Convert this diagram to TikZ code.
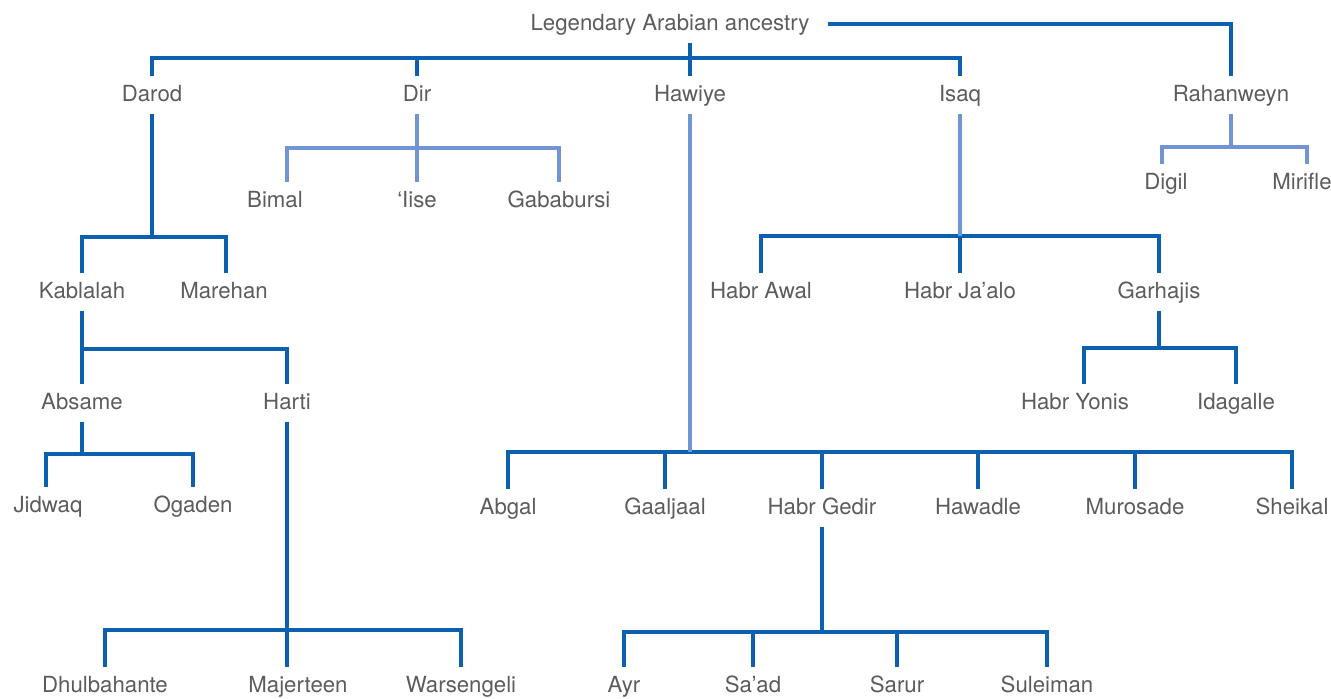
\documentclass[tikz,border=0pt]{standalone}
\usepackage{fontspec}
\setmainfont{TeX Gyre Heros}
\usepackage{xcolor}
\usepackage{tikz}
\usetikzlibrary{positioning}
\definecolor{clandark}{RGB}{12,96,176}
\definecolor{clanlight}{RGB}{112,148,212}
\definecolor{clantext}{RGB}{92,92,92}

\begin{document}
\begin{tikzpicture} [on grid, node distance = 100bp,
    every node/.style={font=\fontsize{22.3}{25}\selectfont, text=clantext, inner sep=0pt, inner ysep=8.5bp, text height=16bp, text depth=4bp},
    tie/.style={draw=clandark, line width=3.1bp},
    faint/.style={draw=clanlight, line width=3.1bp}]
    \useasboundingbox (0,0) rectangle (1331bp,-699bp);

    \node (root) [inner xsep=18bp] at (670bp,-24bp)                 {Legendary Arabian ancestry};
    \node (darod) [below left = 71bp and 518bp of root]              {Darod};
    \node (dir)   [right = 265bp of darod]                           {Dir};
    \node (hawiye)[right = 273bp of dir]                             {Hawiye};
    \node (isaq)  [right = 270bp of hawiye]                          {Isaq};
    \node (rahan) [right = 271bp of isaq]                            {Rahanweyn};

    %ramo Dir e Rahanweyn
    \node (bimal)  [below left = 106bp and 142bp of dir]             {Bimal};
    \node (iise)   [below = 106bp of dir]                            {‘Iise};
    \node (gabab)  [below right = 106bp and 142bp of dir]            {Gababursi};
    \node (digil)  [below left = 88bp and 65bp of rahan]             {Digil};
    \node (mirifle)[below right = 88bp and 71bp of rahan]            {Mirifle};

    %ramo Darod
    \node (kablalah)[below left = 197bp and 70bp of darod]           {Kablalah};
    \node (marehan) [right = 142bp of kablalah]                      {Marehan};
    \node (absame)  [below = 111bp of kablalah]                      {Absame};
    \node (harti)   [right = 205bp of absame]                        {Harti};
    \node (jidwaq)  [below left = 103bp and 34bp of absame]          {Jidwaq};
    \node (ogaden)  [below right = 103bp and 111bp of absame]        {Ogaden};
    \node (majert)  [below right = 283bp and 11bp of harti]          {Majerteen};
    \node (dhulb)   [left = 193bp of majert]                         {Dhulbahante};
    \node (warsen)  [right = 163bp of majert]                        {Warsengeli};

    %ramo Hawiye
    \node (habrgedir)[below right = 413bp and 132bp of hawiye]       {Habr Gedir};
    \node (gaaljaal) [left = 157bp of habrgedir]                     {Gaaljaal};
    \node (abgal)    [left = 157bp of gaaljaal]                      {Abgal};
    \node (hawadle)  [right = 156bp of habrgedir]                    {Hawadle};
    \node (murosade) [right = 157bp of hawadle]                      {Murosade};
    \node (sheikal)  [right = 157bp of murosade]                     {Sheikal};
    \node (sarur)    [below right = 178bp and 75bp of habrgedir]     {Sarur};
    \node (saad)     [left = 144bp of sarur]                         {Sa’ad};
    \node (ayr)      [left = 129bp of saad]                          {Ayr};
    \node (suleiman) [right = 150bp of sarur]                        {Suleiman};

    %ramo Isaq
    \node (habrjaalo)[below = 197bp of isaq]                         {Habr Ja’alo};
    \node (habrawal) [left = 199bp of habrjaalo]                     {Habr Awal};
    \node (garhajis) [right = 199bp of habrjaalo]                    {Garhajis};
    \node (habryonis)[below left = 111bp and 84bp of garhajis]       {Habr Yonis};
    \node (idagalle) [below right = 111bp and 77bp of garhajis]      {Idagalle};

    % livelli delle barre
    \coordinate [above = 37bp of darod] (topbar);
    \coordinate [below = 53bp of dir] (dirbar);
    \coordinate [below = 52bp of rahan] (rahbar);
    \coordinate [below = 142bp of darod] (darbar);
    \coordinate [below = 57bp of kablalah] (kabbar);
    \coordinate [below = 51bp of absame] (absbar);
    \coordinate [below = 227bp of harti] (harbar);
    \coordinate [below = 357bp of hawiye] (hawbar);
    \coordinate [below = 124bp of habrgedir] (gedbar);
    \coordinate [below = 141bp of isaq] (isabar);
    \coordinate [below = 56bp of garhajis] (garbar);

    \draw[tie] (root.east) -| (rahan.north)
               (root.south -| hawiye.north) -- (hawiye.north)
               (darod.north) -- (topbar) -| (isaq.north)
               (dir.north) -- (dir.north |- topbar)
               (darod.south) -- (darbar)
               (kablalah.north) |- (darbar) -| ([xshift=2bp]marehan.north)
               (kablalah.south) -- (kabbar)
               (absame.north) |- (kabbar) -| (harti.north)
               (absame.south) -- (absbar)
               ([xshift=-2bp]jidwaq.north) |- (absbar) -| (ogaden.north)
               (harti.south) -- (harbar)
               (dhulb.north) |- (harbar) -| (warsen.north)
               (harbar) -- (harbar |- majert.north)
               (abgal.north) |- (hawbar) -| (sheikal.north)
               (gaaljaal.north) -- (gaaljaal.north |- hawbar)
               (habrgedir.north) -- (habrgedir.north |- hawbar)
               (hawadle.north) -- (hawadle.north |- hawbar)
               (murosade.north) -- (murosade.north |- hawbar)
               (habrgedir.south) -- (gedbar)
               (ayr.north) |- (gedbar) -| (suleiman.north)
               (saad.north) -- (saad.north |- gedbar)
               (sarur.north) -- (sarur.north |- gedbar)
               (habrawal.north) |- (isabar) -| (garhajis.north)
               (habrjaalo.north) -- (habrjaalo.north |- isabar)
               (garhajis.south) -- (garbar)
               ([xshift=9bp]habryonis.north) |- (garbar) -| (idagalle.north);

    \draw[faint] (dir.south) -- (dirbar)
                 ([xshift=12bp]bimal.north) |- (dirbar) -| (gabab.north)
                 (dirbar) -- (iise.north)
                 (rahan.south) -- (rahbar)
                 ([xshift=-4bp]digil.north) |- (rahbar) -| ([xshift=5bp]mirifle.north)
                 (hawiye.south) -- (hawbar)
                 (isaq.south) -- (isabar);
\end{tikzpicture}
\end{document}
